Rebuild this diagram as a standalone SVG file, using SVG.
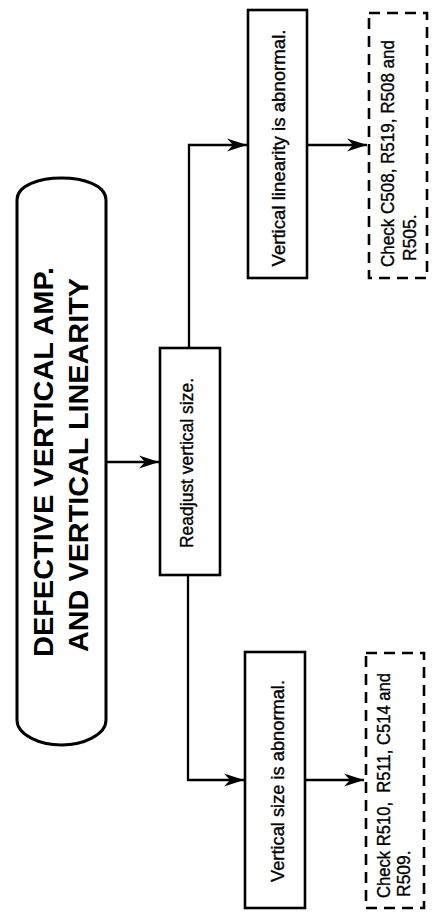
<svg xmlns="http://www.w3.org/2000/svg" width="434" height="916" viewBox="0 0 434 916">
<style>
.bg{fill:#fff}
.box{fill:#fff;stroke:#000;stroke-width:2.6}
.dash{fill:none;stroke:#000;stroke-width:2.6;stroke-dasharray:11 7}
.title{fill:#fff;stroke:#000;stroke-width:3}
.t{font-family:"Liberation Sans",Arial,sans-serif;font-size:17.5px;fill:#000;stroke:#000;stroke-width:0.35}
.tt{font-family:"Liberation Sans",Arial,sans-serif;font-size:28px;font-weight:bold;fill:#000}
.c{fill:none;stroke:#000;stroke-width:2.3}
</style>
<defs>
<marker id="ah" viewBox="-21 -7 22 14" refX="0" refY="0" markerWidth="22" markerHeight="14" markerUnits="userSpaceOnUse" orient="auto">
<path d="M0,0 L-20,-6.5 L-14,0 L-20,6.5 Z" fill="#000"/>
</marker>
</defs>
<rect class="bg" x="0" y="0" width="434" height="916"/>
<g id="connectors">
<path class="c" d="M106,462 L159,462" marker-end="url(#ah)"/>
<path class="c" d="M189,348 L189,145 L247,145" marker-end="url(#ah)"/>
<path class="c" d="M188,575 L188,780 L244,780" marker-end="url(#ah)"/>
<path class="c" d="M307,145 L367,145" marker-end="url(#ah)"/>
<path class="c" d="M305,780 L364,780" marker-end="url(#ah)"/>
</g>
<g id="title">
<path class="title" d="M17,720 L17,200 C17,185 40,178 61.5,178 C83,178 106,185 106,200 L106,720 C106,735 83,745 61.5,745 C40,745 17,735 17,720 Z"/>
<text class="tt" transform="translate(53,462) rotate(-90)" text-anchor="middle" textLength="390" lengthAdjust="spacingAndGlyphs">DEFECTIVE VERTICAL AMP.</text>
<text class="tt" transform="translate(88,465) rotate(-90)" text-anchor="middle" textLength="374" lengthAdjust="spacingAndGlyphs">AND VERTICAL LINEARITY</text>
</g>
<g id="readjust">
<rect class="box" x="160" y="348" width="60" height="227"/>
<text class="t" transform="translate(193,463) rotate(-90)" text-anchor="middle" textLength="170" lengthAdjust="spacingAndGlyphs">Readjust vertical size.</text>
</g>
<g id="linearity">
<rect class="box" x="248" y="10" width="59" height="268"/>
<text class="t" transform="translate(285,148) rotate(-90)" text-anchor="middle" textLength="237" lengthAdjust="spacingAndGlyphs">Vertical linearity is abnormal.</text>
</g>
<g id="size">
<rect class="box" x="245" y="652" width="60" height="256"/>
<text class="t" transform="translate(284,781) rotate(-90)" text-anchor="middle" textLength="202" lengthAdjust="spacingAndGlyphs">Vertical size is abnormal.</text>
</g>
<g id="check-linearity">
<rect class="dash" x="369" y="13" width="58" height="265"/>
<text class="t" transform="translate(394,267) rotate(-90)" textLength="227" lengthAdjust="spacingAndGlyphs">Check C508, R519, R508 and</text>
<text class="t" transform="translate(416,261) rotate(-90)">R505.</text>
</g>
<g id="check-size">
<rect class="dash" x="366" y="653" width="58" height="255"/>
<text class="t" transform="translate(390,898) rotate(-90)" xml:space="preserve" textLength="225" lengthAdjust="spacingAndGlyphs">Check R510,  R511, C514 and</text>
<text class="t" transform="translate(410,897) rotate(-90)">R509.</text>
</g>
</svg>
